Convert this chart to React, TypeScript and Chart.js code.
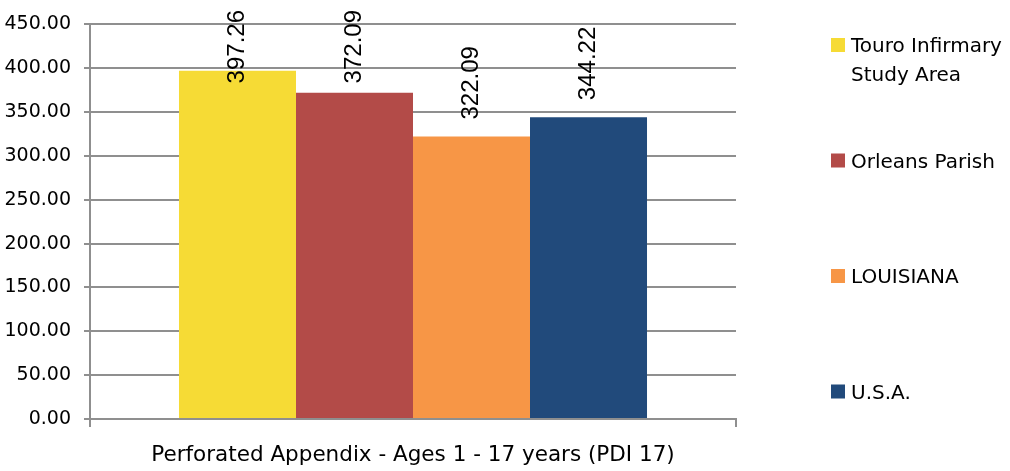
import React, { useEffect, useRef } from 'react';
import { Chart, registerables } from 'chart.js';

Chart.register(...registerables);

const categories = ['Perforated Appendix - Ages 1 - 17 years (PDI 17)'];
const seriesNames: string[][] = [['Touro Infirmary', 'Study Area'], ['Orleans Parish'], ['LOUISIANA'], ['U.S.A.']];
const seriesValues = [397.26, 372.09, 322.09, 344.22];
const seriesColors = ['#F6DB35', '#B34B48', '#F79646', '#214A7B'];
const yMin = 0;
const yMax = 450;
const yStep = 50;

const FONT = '"DejaVu Sans", sans-serif';
const GRID = '#8f8f8f';

const valueLabels = {
  id: 'valueLabels',
  afterDatasetsDraw(chart: any) {
    const ctx = chart.ctx;
    ctx.save();
    ctx.font = '24px "Liberation Sans", sans-serif';
    ctx.fillStyle = '#000';
    ctx.textBaseline = 'middle';
    ctx.textAlign = 'left';
    chart.data.datasets.forEach((ds: any, i: number) => {
      const meta = chart.getDatasetMeta(i);
      meta.data.forEach((el: any, j: number) => {
        const txt = Number(ds.data[j]).toFixed(2);
        const w = ctx.measureText(txt).width;
        let start = el.y - 17;
        const limit = 10 + w;
        if (start < limit) start = limit;
        ctx.save();
        ctx.translate(el.x, start);
        ctx.rotate(-Math.PI / 2);
        ctx.fillText(txt, 0, 0);
        ctx.restore();
      });
    });
    ctx.restore();
  },
};

const sideLegend = {
  id: 'sideLegend',
  afterDraw(chart: any) {
    const ctx = chart.ctx;
    const area = chart.chartArea;
    const boxX = area.right + 95;
    const textX = boxX + 20;
    const firstY = 46;
    const stepY = 115.5;
    ctx.save();
    ctx.font = '20px ' + FONT;
    ctx.textBaseline = 'middle';
    ctx.textAlign = 'left';
    chart.data.datasets.forEach((ds: any, i: number) => {
      const cy = firstY + i * stepY;
      ctx.fillStyle = ds.backgroundColor;
      ctx.fillRect(boxX, cy - 8, 14, 14);
      ctx.fillStyle = '#000';
      seriesNames[i].forEach((line, k) => {
        ctx.fillText(line, textX, cy + 1 + k * 29);
      });
    });
    ctx.restore();
  },
};

export default function App() {
  const ref = useRef<HTMLCanvasElement | null>(null);
  useEffect(() => {
    if (!ref.current) return;
    const chart = new Chart(ref.current, {
      type: 'bar',
      data: {
        labels: categories,
        datasets: seriesNames.map((n, i) => ({
          label: n.join(' '),
          data: [seriesValues[i]],
          backgroundColor: seriesColors[i],
          borderWidth: 0,
          barPercentage: 1,
          categoryPercentage: 0.7245,
        })),
      },
      options: {
        animation: false,
        responsive: false,
        layout: { padding: { top: 21, right: 274, left: 0, bottom: 0 } },
        plugins: {
          legend: { display: false },
          tooltip: { enabled: false },
        },
        scales: {
          x: {
            offset: true,
            grid: {
              offset: true,
              drawOnChartArea: false,
              drawTicks: true,
              tickLength: 8,
              color: GRID,
              lineWidth: 2,
            },
            border: { display: true, color: GRID, width: 2 },
            ticks: {
              color: '#000',
              font: { family: FONT, size: 21.5 },
              padding: 16,
              maxRotation: 0,
            },
            afterFit(scale: any) {
              scale.height = 52;
            },
          },
          y: {
            min: yMin,
            max: yMax,
            grid: {
              color: GRID,
              lineWidth: 2,
              tickLength: 6,
              drawTicks: true,
            },
            border: { display: true, color: GRID, width: 2 },
            ticks: {
              stepSize: yStep,
              color: '#000',
              font: { family: FONT, size: 19 },
              padding: 13,
              callback: (v: any) => Number(v).toFixed(2),
            },
            afterFit(scale: any) {
              scale.width = 90;
            },
          },
        },
      },
      plugins: [valueLabels, sideLegend],
    });
    return () => chart.destroy();
  }, []);
  return (
    <div style={{ position: 'absolute', left: 0, top: 0, width: 1010, height: 471 }}>
      <canvas ref={ref} width={1010} height={471} />
    </div>
  );
}
